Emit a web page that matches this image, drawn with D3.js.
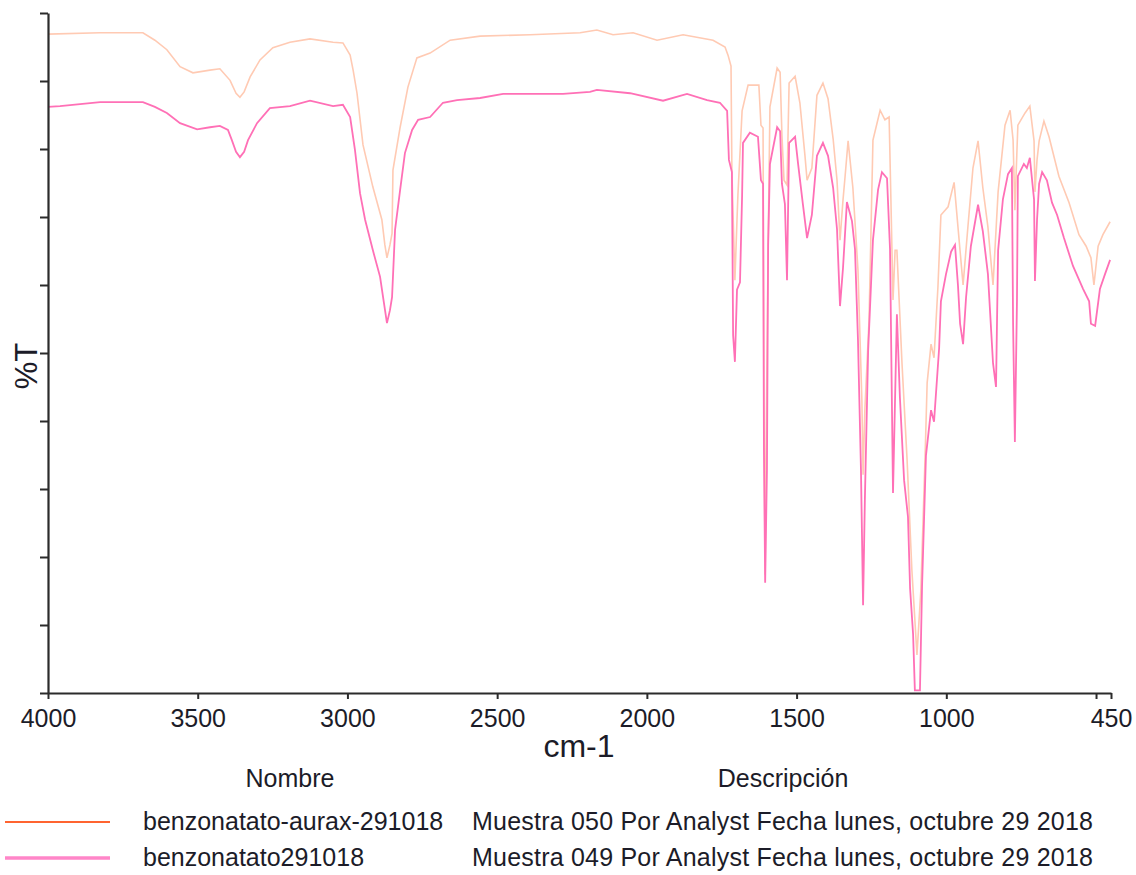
<!DOCTYPE html>
<html>
<head>
<meta charset="utf-8">
<script src="https://cdn.jsdelivr.net/npm/d3@7"></script>
<style>
  html, body { margin: 0; padding: 0; background: #fff; }
  svg { display: block; font-family: "Liberation Sans", Arial, sans-serif; }
</style>
</head>
<body>
<svg id="chart" width="1136" height="875"></svg>
<script>
// ---- DATA ----
const xTicks = [4000, 3500, 3000, 2500, 2000, 1500, 1000, 500, 450];
const xTickLabels = ["4000", "3500", "3000", "2500", "2000", "1500", "1000", "", "450"];
const yTicks = [0, 10, 20, 30, 40, 50, 60, 70, 80, 90, 100];

const seriesNames = ["benzonatato-aurax-291018", "benzonatato291018"];
const seriesDescriptions = [
  "Muestra 050 Por Analyst Fecha lunes, octubre 29 2018",
  "Muestra 049 Por Analyst Fecha lunes, octubre 29 2018"
];

// Series A: benzonatato-aurax-291018 (wavenumber cm-1, %T)
const wnA = [4000,3826,3683,3643,3603,3559,3516,3459,3426,3392,3372,3359,3345,3325,3292,3249,3192,3125,3048,3015,2991,2981,2968,2948,2915,2885,2875,2868,2858,2851,2848,2824,2798,2768,2724,2657,2557,2390,2223,2167,2113,2046,1966,1879,1779,1739,1729,1719,1716,1706,1699,1696,1682,1662,1626,1619,1612,1609,1605,1602,1595,1589,1565,1555,1549,1542,1532,1525,1505,1489,1472,1465,1449,1432,1412,1395,1378,1365,1355,1345,1338,1328,1312,1295,1282,1278,1272,1258,1245,1221,1205,1191,1185,1178,1171,1165,1148,1131,1115,1098,1085,1071,1064,1051,1041,1028,1018,994,974,961,944,928,911,894,878,861,844,827,804,787,777,771,764,761,737,721,707,704,697,690,674,657,624,590,557,533,517,507,493,477,453];
const tA  = [96.9,97.1,97.1,96.0,94.6,92.1,91.2,91.6,91.8,90.1,88.2,87.6,88.4,90.6,93.1,94.9,95.7,96.2,95.7,95.6,93.8,91.6,88.2,80.6,74.4,69.6,65.9,64.0,65.9,67.6,76.9,83.2,89.1,93.4,94.1,96.0,96.6,96.8,97.1,97.5,96.8,97.1,96.0,96.8,96.0,95.0,93.8,92.2,76.6,60.7,69.6,73.2,85.6,89.4,89.4,83.5,83.1,43.1,17.4,35.7,65.9,86.2,91.9,91.3,82.1,75.4,74.7,89.7,90.7,86.8,79.0,75.4,77.2,87.9,89.7,87.4,81.5,75.4,66.6,72.5,76.0,81.2,74.3,62.2,43.1,32.1,41.6,54.9,81.3,85.7,84.3,84.7,72.5,57.8,65.1,65.1,48.5,34.3,18.1,5.6,15.1,34.6,45.6,51.3,49.3,59.7,70.3,71.5,75.1,68.5,60.0,68.5,77.2,81.2,74.3,68.5,60.0,73.7,83.5,85.7,81.3,71.0,79.9,83.5,85.3,86.3,81.2,73.7,78.4,81.2,84.1,81.8,76.0,72.1,67.4,65.7,64.0,60.0,65.7,67.4,69.3];

// Series B: benzonatato291018 (wavenumber cm-1, %T)
const wnB = [4000,3960,3826,3683,3643,3603,3559,3502,3459,3426,3399,3386,3372,3359,3345,3332,3302,3259,3192,3125,3048,3015,2991,2975,2958,2941,2915,2891,2881,2868,2858,2851,2841,2824,2808,2784,2764,2724,2681,2634,2557,2480,2280,2190,2167,2056,1946,1866,1799,1756,1732,1726,1716,1712,1706,1699,1689,1682,1679,1656,1629,1619,1612,1609,1605,1599,1595,1589,1565,1555,1549,1539,1532,1525,1505,1495,1479,1465,1449,1432,1412,1395,1378,1365,1355,1345,1332,1315,1305,1295,1285,1278,1272,1261,1245,1228,1215,1198,1188,1178,1165,1155,1141,1128,1121,1111,1105,1088,1081,1068,1051,1041,1024,1018,1001,984,971,961,954,944,934,918,894,878,861,844,834,827,811,794,781,777,771,764,761,741,731,721,707,704,697,690,680,664,647,630,607,577,543,523,517,503,487,470,453];
const tB  = [86.2,86.3,86.9,86.9,86.2,85.3,83.8,82.9,83.2,83.4,82.8,81.3,79.6,78.8,79.6,81.3,83.8,86.0,86.3,87.1,86.3,86.5,84.7,79.9,73.5,69.6,65.1,61.2,58.2,54.4,56.3,58.2,68.1,74.0,79.4,82.8,84.3,84.7,86.8,87.2,87.5,88.1,88.1,88.4,88.7,88.2,87.1,88.1,87.2,86.8,85.6,78.4,76.6,52.6,48.7,59.3,60.4,73.1,80.9,82.4,81.8,75.4,74.9,35.7,16.2,32.8,65.9,77.8,83.2,82.6,74.9,71.9,60.7,80.9,81.8,77.8,71.9,66.9,70.3,79.0,80.9,79.0,74.3,68.2,56.9,62.5,72.2,69.4,65.3,51.9,32.8,12.9,28.4,50.4,66.6,74.0,76.6,75.7,65.3,29.4,55.7,43.5,31.3,25.9,15.4,8.7,0.4,0.4,15.7,34.9,41.6,39.9,50.7,57.6,61.6,64.9,65.9,59.9,54.3,51.3,58.2,65.7,71.8,67.9,61.6,48.5,45.0,65.1,72.6,76.3,77.2,54.3,36.9,57.8,76.0,77.8,77.2,78.7,72.6,60.6,69.6,74.9,76.6,75.4,72.1,70.3,66.9,62.8,59.4,57.6,54.3,54.0,59.4,61.6,63.7];

// ---- LAYOUT ----
const svg = d3.select("#chart");
const plotLeft = 48, plotRight = 1111, plotTop = 13, plotBottom = 693;

const x = d3.scaleLinear().domain([4000, 450]).range([plotLeft, plotRight]);
const y = d3.scaleLinear().domain([0, 100]).range([plotBottom, plotTop]);

const axisColor = "#2b2b2b";
const textColor = "#1c1c28";

// Spectra
const line = d3.line().x(d => x(d[0])).y(d => y(d[1])).curve(d3.curveLinear);
const dataA = wnA.map((w, i) => [w, tA[i]]);
const dataB = wnB.map((w, i) => [w, tB[i]]);

svg.append("path").datum(dataA)
  .attr("fill", "none").attr("stroke", "#ffcab3").attr("stroke-width", 1.6)
  .attr("stroke-linejoin", "miter").attr("d", line);
svg.append("path").datum(dataB)
  .attr("fill", "none").attr("stroke", "#ff70b6").attr("stroke-width", 1.8)
  .attr("stroke-linejoin", "miter").attr("d", line);

// Y axis (no labels)
const yAxis = svg.append("g")
  .attr("transform", `translate(${plotLeft},0)`)
  .call(d3.axisLeft(y).tickValues(yTicks).tickFormat("").tickSize(8).tickSizeOuter(0));
yAxis.select(".domain").attr("stroke", axisColor).attr("stroke-width", 2.2);
yAxis.selectAll(".tick line").attr("stroke", axisColor).attr("stroke-width", 2);

// X axis
const xAxis = svg.append("g")
  .attr("transform", `translate(0,${plotBottom})`)
  .call(d3.axisBottom(x).tickValues(xTicks)
    .tickFormat((d, i) => xTickLabels[i]).tickSize(6).tickSizeOuter(0));
xAxis.select(".domain").attr("stroke", axisColor).attr("stroke-width", 2);
xAxis.selectAll(".tick line").attr("stroke", axisColor).attr("stroke-width", 2);
xAxis.selectAll(".tick text")
  .attr("font-family", "'Liberation Sans', Arial, sans-serif")
  .attr("font-size", 25).attr("fill", textColor)
  .attr("dy", null).attr("y", 34);

// Axis titles
svg.append("text").text("cm-1")
  .attr("x", 579).attr("y", 757).attr("text-anchor", "middle")
  .attr("font-size", 32).attr("fill", textColor);

svg.append("text").text("%T")
  .attr("transform", "translate(37,366) rotate(-90)")
  .attr("text-anchor", "middle")
  .attr("font-size", 31).attr("fill", textColor);

// Legend table
svg.append("text").text("Nombre")
  .attr("x", 290).attr("y", 787).attr("text-anchor", "middle")
  .attr("font-size", 25).attr("fill", textColor);
svg.append("text").text("Descripción")
  .attr("x", 783).attr("y", 787).attr("text-anchor", "middle")
  .attr("font-size", 25).attr("fill", textColor);

const legendColors = ["#ff6430", "#ff86c8"];
const legendWidths = [2.2, 3.5];
const rowY = [822, 858];
seriesNames.forEach((name, i) => {
  svg.append("line")
    .attr("x1", 5).attr("x2", 110).attr("y1", rowY[i]).attr("y2", rowY[i])
    .attr("stroke", legendColors[i]).attr("stroke-width", legendWidths[i]);
  svg.append("text").text(name)
    .attr("x", 143).attr("y", rowY[i] + 8)
    .attr("font-size", 25).attr("fill", textColor);
  svg.append("text").text(seriesDescriptions[i])
    .attr("x", 472).attr("y", rowY[i] + 8)
    .attr("font-size", 25).attr("fill", textColor)
    .attr("textLength", 621).attr("lengthAdjust", "spacing");
});
</script>
</body>
</html>
